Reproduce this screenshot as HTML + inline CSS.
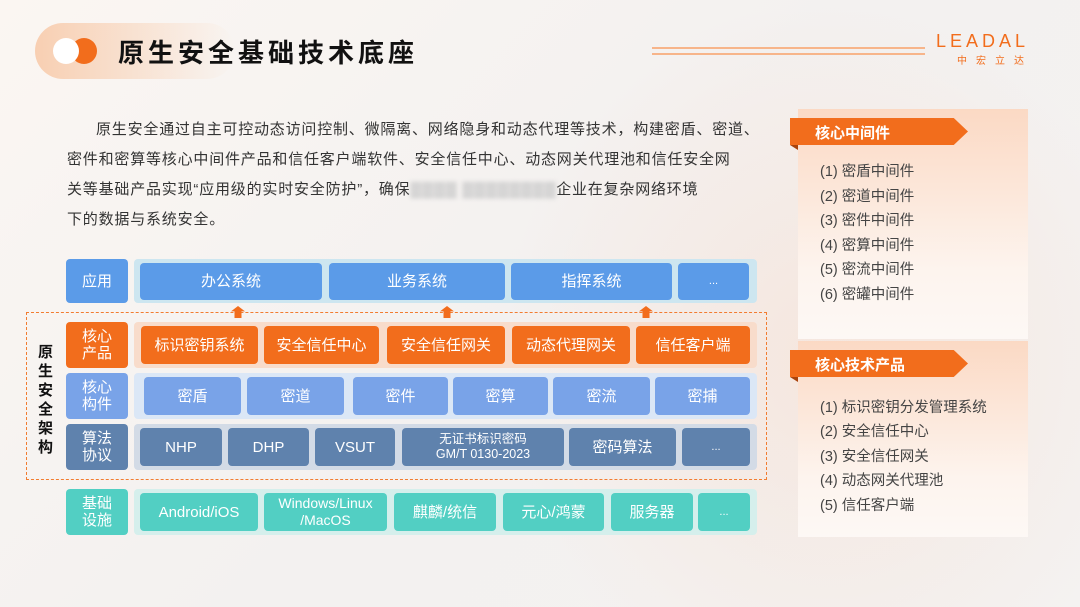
<!DOCTYPE html>
<html><head><meta charset="utf-8"><style>
*{margin:0;padding:0;box-sizing:border-box}
html,body{width:1080px;height:607px;overflow:hidden}
body{position:relative;font-family:"Liberation Sans","Noto Sans CJK SC",sans-serif;background:radial-gradient(ellipse 330px 360px at 830px 360px,rgba(250,205,180,0.3),rgba(250,220,200,0) 100%),linear-gradient(135deg,#fbf6f2 0%,#f3f1f0 50%,#f4f2f1 100%)}
.a{position:absolute}
.b{position:absolute;border-radius:4px;color:#fff;display:flex;align-items:center;justify-content:center;text-align:center;font-size:15px;line-height:17px}
.c{position:absolute;border-radius:4px}
.p{position:absolute;left:67px;font-size:15px;color:#333;letter-spacing:0.8px;white-space:nowrap}
.li{position:absolute;left:820px;font-size:14.5px;color:#444}
</style></head><body>
<div class="a" style="left:35px;top:23px;width:200px;height:56px;border-radius:28px;background:linear-gradient(90deg,#f8cfb2,rgba(248,220,200,0))"></div>
<div class="a" style="left:71px;top:38px;width:26px;height:26px;border-radius:50%;background:#f26d1c"></div>
<div class="a" style="left:53px;top:38px;width:26px;height:26px;border-radius:50%;background:#fff"></div>
<div class="a" style="left:118px;top:33px;font-size:26px;font-weight:bold;color:#111;letter-spacing:4px">原生安全基础技术底座</div>
<div class="a" style="left:652px;top:47px;width:273px;height:1.5px;background:#f7b58a"></div>
<div class="a" style="left:652px;top:53px;width:273px;height:1.5px;background:#f7b58a"></div>
<div class="a" style="left:936px;top:31px;font-size:18px;color:#f26d1c;letter-spacing:4px">LEADAL</div>
<div class="a" style="left:957px;top:52px;font-size:10px;color:#f26d1c;letter-spacing:9px">中宏立达</div>

<div class="p" style="top:118px;left:96px">原生安全通过自主可控动态访问控制、微隔离、网络隐身和动态代理等技术，构建密盾、密道、</div>
<div class="p" style="top:148px">密件和密算等核心中间件产品和信任客户端软件、安全信任中心、动态网关代理池和信任安全网</div>
<div class="p" style="top:178px">关等基础产品实现“应用级的实时安全防护”，确保<span style="color:#ccc;filter:blur(2px)">▓▓▓▓ ▓▓▓▓▓▓▓▓</span>企业在复杂网络环境</div>
<div class="p" style="top:208px">下的数据与系统安全。</div>

<div class="a" style="left:798px;top:109px;width:230px;height:230px;background:linear-gradient(180deg,#fbd9c4,#fdf4ee 70%,#fdf8f5)"></div>
<div class="a" style="left:798px;top:341px;width:230px;height:196px;background:linear-gradient(180deg,#fbd9c4,#fdf4ee 70%,#fdf8f5)"></div>
<div class="a" style="left:790px;top:118px;width:178px;height:27px;background:#f26d1c;clip-path:polygon(0 0,92% 0,100% 50%,92% 100%,0 100%)"></div>
<div class="a" style="left:790px;top:145px;width:8px;height:5px;background:#a9430c;clip-path:polygon(0 0,100% 0,100% 100%)"></div>
<div class="a" style="left:815px;top:122px;font-size:15px;font-weight:bold;color:#fff">核心中间件</div>
<div class="a" style="left:790px;top:350px;width:178px;height:27px;background:#f26d1c;clip-path:polygon(0 0,92% 0,100% 50%,92% 100%,0 100%)"></div>
<div class="a" style="left:790px;top:377px;width:8px;height:5px;background:#a9430c;clip-path:polygon(0 0,100% 0,100% 100%)"></div>
<div class="a" style="left:815px;top:354px;font-size:15px;font-weight:bold;color:#fff">核心技术产品</div>
<div class="li" style="top:160px">(1) 密盾中间件</div>
<div class="li" style="top:185px">(2) 密道中间件</div>
<div class="li" style="top:209px">(3) 密件中间件</div>
<div class="li" style="top:234px">(4) 密算中间件</div>
<div class="li" style="top:258px">(5) 密流中间件</div>
<div class="li" style="top:283px">(6) 密罐中间件</div>
<div class="li" style="top:396px">(1) 标识密钥分发管理系统</div>
<div class="li" style="top:420px">(2) 安全信任中心</div>
<div class="li" style="top:445px">(3) 安全信任网关</div>
<div class="li" style="top:469px">(4) 动态网关代理池</div>
<div class="li" style="top:494px">(5) 信任客户端</div>

<div class="a" style="left:26px;top:312px;width:741px;height:168px;border:1.5px dashed #f27c30"></div>
<div class="a" style="left:38px;top:343px;width:18px;font-size:15px;font-weight:bold;line-height:19px;color:#111">原生安全架构</div>

<div class="c" style="left:134px;top:259px;width:623px;height:44px;background:#cde6f0"></div>
<div class="c" style="left:134px;top:322px;width:623px;height:46px;background:#f8dccb"></div>
<div class="c" style="left:134px;top:373px;width:623px;height:46px;background:#dbe7f6"></div>
<div class="c" style="left:134px;top:424px;width:623px;height:46px;background:#d3dbe6"></div>
<div class="c" style="left:134px;top:489px;width:623px;height:46px;background:#d5efec"></div>

<div class="b" style="left:66px;top:259px;width:62px;height:44px;background:#5b9be8">应用</div>
<div class="b" style="left:66px;top:322px;width:62px;height:46px;background:#f26d1c">核心<br>产品</div>
<div class="b" style="left:66px;top:373px;width:62px;height:46px;background:#79a3e8">核心<br>构件</div>
<div class="b" style="left:66px;top:424px;width:62px;height:46px;background:#5f82ad">算法<br>协议</div>
<div class="b" style="left:66px;top:489px;width:62px;height:46px;background:#52cfc3">基础<br>设施</div>

<div class="b" style="left:140px;top:263px;width:182px;height:37px;background:#5b9be8">办公系统</div>
<div class="b" style="left:329px;top:263px;width:176px;height:37px;background:#5b9be8">业务系统</div>
<div class="b" style="left:511px;top:263px;width:161px;height:37px;background:#5b9be8">指挥系统</div>
<div class="b" style="left:678px;top:263px;width:71px;height:37px;background:#5b9be8;font-size:11px">...</div>

<div class="a" style="left:231px;top:306px;width:14px;height:12px;background:#f26d1c;clip-path:polygon(50% 0,100% 45%,75% 45%,75% 100%,25% 100%,25% 45%,0 45%)"></div>
<div class="a" style="left:440px;top:306px;width:14px;height:12px;background:#f26d1c;clip-path:polygon(50% 0,100% 45%,75% 45%,75% 100%,25% 100%,25% 45%,0 45%)"></div>
<div class="a" style="left:639px;top:306px;width:14px;height:12px;background:#f26d1c;clip-path:polygon(50% 0,100% 45%,75% 45%,75% 100%,25% 100%,25% 45%,0 45%)"></div>

<div class="b" style="left:141px;top:326px;width:117px;height:38px;background:#f26d1c">标识密钥系统</div>
<div class="b" style="left:264px;top:326px;width:115px;height:38px;background:#f26d1c">安全信任中心</div>
<div class="b" style="left:387px;top:326px;width:118px;height:38px;background:#f26d1c">安全信任网关</div>
<div class="b" style="left:512px;top:326px;width:118px;height:38px;background:#f26d1c">动态代理网关</div>
<div class="b" style="left:636px;top:326px;width:114px;height:38px;background:#f26d1c">信任客户端</div>

<div class="b" style="left:144px;top:377px;width:97px;height:38px;background:#79a3e8">密盾</div>
<div class="b" style="left:247px;top:377px;width:97px;height:38px;background:#79a3e8">密道</div>
<div class="b" style="left:353px;top:377px;width:95px;height:38px;background:#79a3e8">密件</div>
<div class="b" style="left:453px;top:377px;width:95px;height:38px;background:#79a3e8">密算</div>
<div class="b" style="left:553px;top:377px;width:97px;height:38px;background:#79a3e8">密流</div>
<div class="b" style="left:655px;top:377px;width:95px;height:38px;background:#79a3e8">密捕</div>

<div class="b" style="left:140px;top:428px;width:82px;height:38px;background:#5f82ad">NHP</div>
<div class="b" style="left:228px;top:428px;width:81px;height:38px;background:#5f82ad">DHP</div>
<div class="b" style="left:315px;top:428px;width:80px;height:38px;background:#5f82ad">VSUT</div>
<div class="b" style="left:402px;top:428px;width:162px;height:38px;background:#5f82ad;font-size:12.5px;line-height:15px">无证书标识密码<br>GM/T 0130-2023</div>
<div class="b" style="left:569px;top:428px;width:107px;height:38px;background:#5f82ad">密码算法</div>
<div class="b" style="left:682px;top:428px;width:68px;height:38px;background:#5f82ad;font-size:11px">...</div>

<div class="b" style="left:140px;top:493px;width:118px;height:38px;background:#52cfc3">Android/iOS</div>
<div class="b" style="left:264px;top:493px;width:123px;height:38px;background:#52cfc3;font-size:14px;line-height:17px">Windows/Linux<br>/MacOS</div>
<div class="b" style="left:394px;top:493px;width:102px;height:38px;background:#52cfc3">麒麟/统信</div>
<div class="b" style="left:503px;top:493px;width:101px;height:38px;background:#52cfc3">元心/鸿蒙</div>
<div class="b" style="left:611px;top:493px;width:82px;height:38px;background:#52cfc3">服务器</div>
<div class="b" style="left:698px;top:493px;width:52px;height:38px;background:#52cfc3;font-size:11px">...</div>
</body></html>
